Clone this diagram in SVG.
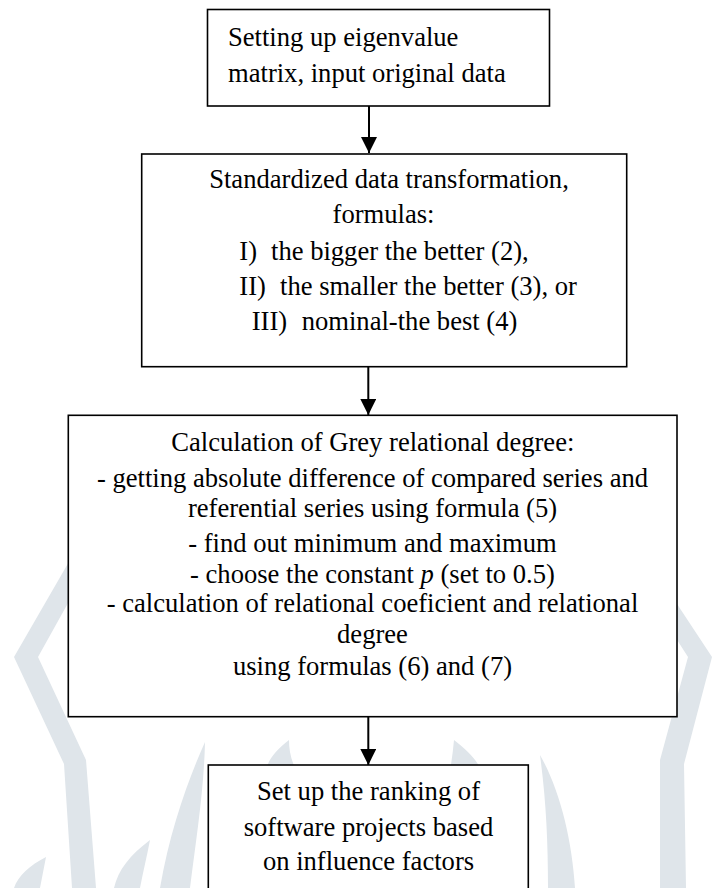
<svg xmlns="http://www.w3.org/2000/svg" width="716" height="888" viewBox="0 0 716 888">
  <style>
    .box { fill: #ffffff; stroke: #000000; stroke-width: 1.6; }
    .t { font-family: 'Liberation Serif', 'DejaVu Serif', serif; font-size: 26.6px; fill: #000000; }
    .c { text-anchor: middle; }
    .wm { fill: #dfe5ea; stroke: none; }
    .conn { stroke: #000000; stroke-width: 2; fill: none; }
  </style>
  <defs>
    <marker id="arrow" markerUnits="userSpaceOnUse" markerWidth="16" markerHeight="16" viewBox="0 0 16 16" refX="16" refY="8" orient="auto">
      <path d="M0,0 L16,8 L0,16 Z" fill="#000000"/>
    </marker>
  </defs>
  <rect width="716" height="888" fill="#ffffff"/>

  <g id="watermark">
    <path class="wm" d="M70,560 L92,560 L38,657 L86,760 L96,888 L72,888 L64,764 L14,657 Z"/>
    <path class="wm" d="M648,560 L626,560 L688,657 L660,760 L660,888 L686,888 L684,764 L712,657 Z"/>
    <path class="wm" d="M205,742 C188,780 170,830 160,888 L190,888 C196,840 204,790 205,742 Z"/>
    <path class="wm" d="M289,740 C276,750 268,760 266,770 L296,770 C291,760 289,750 289,740 Z"/>
    <path class="wm" d="M454,740 C467,750 477,760 481,770 L450,770 C452,760 453,750 454,740 Z"/>
    <path class="wm" d="M540,755 C560,790 572,840 575,888 L548,888 C548,840 546,800 540,755 Z"/>
    <path class="wm" d="M150,840 C130,855 118,870 114,888 L140,888 C143,872 147,856 150,840 Z"/>
    <path class="wm" d="M46,857 C30,865 18,876 14,888 L40,888 C42,878 44,867 46,857 Z"/>
  </g>

  <g id="connectors">
    <line class="conn" x1="369" y1="106" x2="369" y2="153" marker-end="url(#arrow)"/>
    <line class="conn" x1="368.3" y1="367" x2="368.3" y2="415" marker-end="url(#arrow)"/>
    <line class="conn" x1="368.3" y1="717" x2="368.3" y2="765" marker-end="url(#arrow)"/>
  </g>

  <g id="node1">
    <rect class="box" x="207.5" y="9.5" width="342" height="96.5"/>
    <text class="t" font-family="Liberation Serif, DejaVu Serif, serif" x="228" y="45.5">Setting up eigenvalue</text>
    <text class="t" font-family="Liberation Serif, DejaVu Serif, serif" x="228" y="81.7">matrix, input original data</text>
  </g>

  <g id="node2">
    <rect class="box" x="141.7" y="154" width="485" height="212.7"/>
    <text class="t c" x="389" y="187.5">Standardized data transformation,</text>
    <text class="t c" x="383.5" y="223">formulas:</text>
    <text class="t"><tspan x="239.3" y="259.5">I)</tspan><tspan x="271" y="259.5">the bigger the better (2),</tspan></text>
    <text class="t"><tspan x="239.3" y="295">II)</tspan><tspan x="280" y="295">the smaller the better (3), or</tspan></text>
    <text class="t"><tspan x="251.7" y="330">III)</tspan><tspan x="301.7" y="330">nominal-the best (4)</tspan></text>
  </g>

  <g id="node3">
    <rect class="box" x="68.3" y="415.3" width="608.7" height="301.4"/>
    <text class="t c" x="372.8" y="450.7">Calculation of Grey relational degree:</text>
    <text class="t c" x="372.5" y="486.5">- getting absolute difference of compared series and</text>
    <text class="t c" x="372.5" y="516.7">referential series using formula (5)</text>
    <text class="t c" x="372.5" y="551.7">- find out minimum and maximum</text>
    <text class="t c" x="372.5" y="582.7">- choose the constant <tspan font-style="italic">p</tspan> (set to 0.5)</text>
    <text class="t c" x="372.5" y="611.7">- calculation of relational coeficient and relational</text>
    <text class="t c" x="372.5" y="642.5">degree</text>
    <text class="t c" x="372.5" y="675">using formulas (6) and (7)</text>
  </g>

  <g id="node4">
    <rect class="box" x="208.3" y="765" width="320" height="140"/>
    <text class="t c" x="368.5" y="800">Set up the ranking of</text>
    <text class="t c" x="368.5" y="835.5">software projects based</text>
    <text class="t c" x="368.5" y="870">on influence factors</text>
  </g>
</svg>
